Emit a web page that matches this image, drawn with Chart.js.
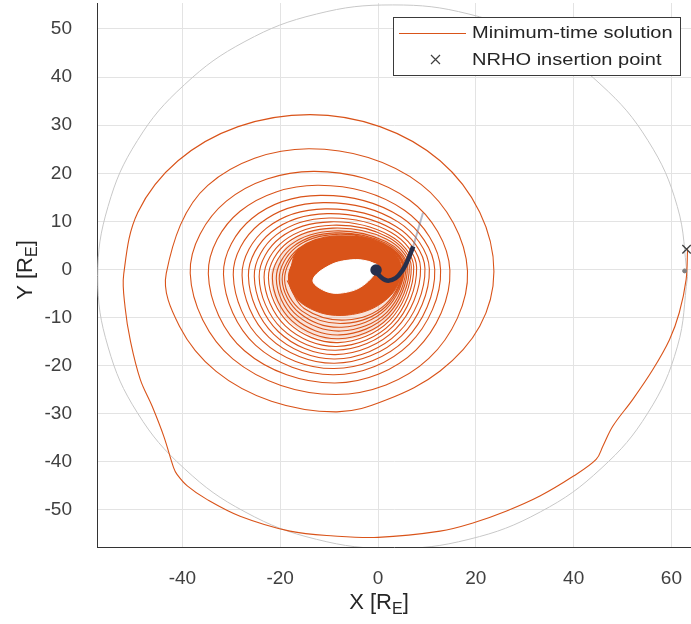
<!DOCTYPE html>
<html>
<head>
<meta charset="utf-8">
<script src="https://cdn.jsdelivr.net/npm/chart.js@4"></script>
<style>
  html, body { margin: 0; padding: 0; background: #fff; }
  #wrap { width: 691px; height: 624px; }
</style>
</head>
<body>
<div id="wrap"><canvas id="myChart" width="691" height="624"></canvas></div>
<script>
// Axis ticks
const xTicks = [-40, -20, 0, 20, 40, 60];
const yTicks = [-50, -40, -30, -20, -10, 0, 10, 20, 30, 40, 50];

// Outer transfer arc, from the NRHO insertion point down and round to the spiral
const transferX = [63.3, 63.0, 61.6, 59.6, 56.2, 52.1, 48.0, 46.0, 44.6, 39.9, 33.1, 26.3, 19.4, 12.7, 0.0, -9.0, -18.0, -28.2, -35.0, -39.0, -41.1, -41.8, -43.8, -46.2, -48.6, -50.6, -51.7];
const transferY = [4.2, -2.1, -9.0, -14.6, -20.8, -27.0, -32.6, -36.7, -39.5, -43.0, -47.1, -50.2, -52.7, -54.4, -55.7, -55.4, -54.4, -51.3, -47.8, -45.0, -42.6, -41.2, -34.7, -28.4, -22.9, -15.0, -8.0];

// Spiral revolutions, outer to inner, one loop per line
// first loop traced finer, the others by left, top-left, top, top-right, right, bottom-right, bottom, bottom-left
const loopX = [
    -52.0, -49.1, -40.9, -28.6, -13.9, 0.4, 12.7, 20.8, 23.7, 20.8, 12.7, 1.5, -8.4, -21.8, -33.1, -40.6,
    -43.3, -34.8, -14.2, 8.8, 18.3, 10.4, -8.6, -29.7,
    -38.4, -31.0, -13.2, 6.5, 14.7, 7.8, -8.8, -27.3,
    -34.7, -28.2, -12.4, 5.4, 12.8, 6.4, -9.0, -25.0,
    -31.6, -25.8, -11.8, 4.7, 11.6, 5.6, -9.0, -23.6,
    -29.6, -24.2, -11.2, 4.1, 10.5, 4.8, -8.9, -22.3,
    -27.8, -22.8, -10.8, 3.6, 9.6, 4.2, -8.8, -21.3,
    -26.5, -21.8, -10.4, 3.1, 8.7, 3.6, -8.7, -20.4,
    -25.3, -20.8, -10.0, 2.7, 7.9, 3.1, -8.6, -19.7,
    -24.3, -20.0, -9.7, 2.3, 7.3, 2.7, -8.4, -18.9,
    -23.3, -19.2, -9.4, 2.1, 6.8, 2.4, -8.2, -18.2,
    -22.4, -18.5, -9.2, 1.8, 6.4, 2.2, -8.0, -17.6,
    -21.6, -17.9, -9.0, 1.6, 6.0, 2.0, -7.8, -17.0,
    -20.8, -17.3, -8.8, 1.5, 5.7, 1.8, -7.6, -16.5,
    -20.2, -16.8, -8.6, 1.3, 5.4, 1.6, -7.4, -16.0,
    -19.6, -16.3, -8.5, 1.2, 5.2, 1.6, -7.0, -15.6,
    -19.1, -16.0, -8.4, 1.1, 5.0, 1.6, -6.6, -15.1, -18.6
];
const loopY = [
    -1.0, 11.9, 22.6, 29.7, 32.2, 29.7, 22.6, 11.9, -0.4, -11.8, -21.1, -27.2, -29.6, -27.4, -21.2, -11.8,
    -0.8, 17.5, 25.1, 17.7, -0.3, -18.5, -26.0, -18.6,
    -0.8, 14.2, 20.4, 14.4, -0.2, -16.7, -23.6, -16.9,
    -0.9, 12.1, 17.5, 12.3, -0.1, -15.5, -21.9, -15.8,
    -1.0, 10.6, 15.4, 10.9, 0.0, -14.6, -20.6, -14.9,
    -1.1, 9.5, 13.9, 9.9, 0.1, -13.8, -19.5, -14.1,
    -1.2, 8.6, 12.6, 9.0, 0.2, -13.1, -18.6, -13.5,
    -1.3, 7.8, 11.6, 8.3, 0.3, -12.4, -17.7, -12.9,
    -1.4, 7.2, 10.7, 7.7, 0.4, -11.8, -16.8, -12.3,
    -1.5, 6.6, 9.9, 7.1, 0.5, -11.2, -16.0, -11.8,
    -1.6, 6.0, 9.2, 6.7, 0.5, -10.6, -15.2, -11.2,
    -1.7, 5.6, 8.6, 6.3, 0.6, -10.0, -14.4, -10.7,
    -1.8, 5.1, 8.0, 5.8, 0.6, -9.4, -13.6, -10.2,
    -1.9, 4.8, 7.6, 5.5, 0.6, -8.9, -12.8, -9.6,
    -2.0, 4.6, 7.3, 5.3, 0.6, -8.3, -12.0, -9.1,
    -2.1, 4.3, 7.0, 5.1, 0.6, -7.7, -11.2, -8.6,
    -2.2, 4.2, 6.8, 5.0, 0.6, -7.2, -10.5, -8.1, -2.3
];

// Pale band where the innermost revolutions crowd together
const hazeX = [-22.0, -18.2, -9.2, 1.9, 6.5, 2.3, -8.1, -17.9, -22.0, -18.2];
const hazeY = [-1.7, 5.4, 8.7, 6.4, 0.6, -10.2, -14.8, -11.0, -1.7, 5.4];

// Dense core of the spiral (filled) and the empty hole in it
const coreX = [-18.3, -16.2, -8.4, 0.5, 4.8, 2.0, -6.4, -14.8, -18.3, -16.2];
const coreY = [-2.2, 4.2, 6.8, 5.6, 0.6, -6.0, -9.5, -7.6, -2.2, 4.2];
const holeX = [0.0, -2.0, -5.5, -10.0, -13.3, -11.0, -7.5, -3.0, 0.0, -2.0];
const holeY = [0.6, 1.7, 2.0, 0.8, -2.2, -4.4, -4.9, -3.3, 0.6, 1.7];

// Moon orbit (grey)
const orbitX = [63.3, 61.2, 55.2, 45.6, 33.2, 18.6, 3.0, -12.6, -27.2, -39.6, -49.2, -55.2, -57.3, -55.2, -49.2, -39.6, -27.2, -12.6, 3.0, 18.6, 33.2, 45.6, 55.2, 61.2, 63.3];
const orbitY = [-1.5, 13.1, 26.8, 38.4, 47.4, 53.1, 55.0, 53.1, 47.4, 38.4, 26.8, 13.1, -1.5, -16.1, -29.8, -41.4, -50.4, -56.1, -58.0, -56.1, -50.4, -41.4, -29.8, -16.1, -1.5];

// NRHO track near the Earth
const nrhoX = [-0.4, 0.3, 1.8, 3.6, 5.0, 6.2, 7.2];
const nrhoY = [-0.1, -1.3, -2.3, -1.8, -0.2, 2.2, 4.8];
const nrhoTailX = [7.2, 8.0, 8.6, 9.2];
const nrhoTailY = [4.8, 7.6, 9.7, 11.8];

// Insertion point marker and the small dot beside it
const insertionX = [63.1];
const insertionY = [4.2];
const dotX = [62.7];
const dotY = [-0.3];

const ORANGE = '#D95319';
const NAVY = '#27304d';
const FONT = '"Liberation Sans", Arial, sans-serif';

function pts(xs, ys) {
    return xs.map((x, i) => ({ x: x, y: ys[i] }));
}

// One continuous path: transfer arc then the spiral
const spiral = pts(transferX, transferY).concat(pts(loopX, loopY));

// Axis titles with subscript and the boxed legend
const decor = {
    id: 'decor',
    afterDraw(chart) {
        const ctx = chart.ctx;
        ctx.save();

        function subText(parts, cx, cy) {
            let total = 0;
            parts.forEach(p => {
                ctx.font = (p[1] ? '16px ' : '22px ') + FONT;
                total += ctx.measureText(p[0]).width;
            });
            let x = cx - total / 2;
            ctx.textBaseline = 'middle';
            ctx.textAlign = 'left';
            parts.forEach(p => {
                ctx.font = (p[1] ? '16px ' : '22px ') + FONT;
                ctx.fillText(p[0], x, p[1] ? cy + 7 : cy);
                x += ctx.measureText(p[0]).width;
            });
        }

        ctx.fillStyle = '#262626';
        subText([['X [R', false], ['E', true], [']', false]], 379, 603);
        ctx.save();
        ctx.translate(26, 270);
        ctx.rotate(-Math.PI / 2);
        subText([['Y [R', false], ['E', true], [']', false]], 0, 0);
        ctx.restore();

        // legend box
        const bx = 393, by = 17, bw = 287, bh = 58;
        ctx.fillStyle = '#ffffff';
        ctx.fillRect(bx, by, bw, bh);
        ctx.strokeStyle = '#3a3a3a';
        ctx.lineWidth = 1;
        ctx.strokeRect(bx + 0.5, by + 0.5, bw, bh);

        ctx.strokeStyle = ORANGE;
        ctx.lineWidth = 1;
        ctx.beginPath();
        ctx.moveTo(399, 33.5);
        ctx.lineTo(466, 33.5);
        ctx.stroke();

        ctx.strokeStyle = '#404040';
        ctx.lineWidth = 1.2;
        ctx.beginPath();
        ctx.moveTo(431, 55); ctx.lineTo(440, 64);
        ctx.moveTo(440, 55); ctx.lineTo(431, 64);
        ctx.stroke();

        // text is drawn slightly widened, as in the original
        ctx.fillStyle = '#262626';
        ctx.font = '17px ' + FONT;
        ctx.textAlign = 'left';
        ctx.textBaseline = 'middle';
        ctx.save();
        ctx.translate(472, 0);
        ctx.scale(1.18, 1);
        ctx.fillText('Minimum-time solution', 0, 33);
        ctx.fillText('NRHO insertion point', 0, 60);
        ctx.restore();
        ctx.restore();
    }
};

const ctx = document.getElementById('myChart');

new Chart(ctx, {
    type: 'scatter',
    data: {
        datasets: [
            {
                label: 'NRHO insertion point',
                data: pts(insertionX, insertionY),
                showLine: false,
                pointStyle: 'crossRot',
                pointRadius: 6,
                borderColor: '#404040',
                borderWidth: 1.4,
                clip: false,
                order: 1
            },
            {
                label: 'dot',
                data: pts(dotX, dotY),
                showLine: false,
                pointRadius: 2,
                backgroundColor: '#808080',
                borderColor: '#808080',
                order: 1
            },
            {
                label: 'nrho',
                data: pts(nrhoX, nrhoY),
                showLine: true,
                pointRadius: [3.5, 0, 0, 0, 0, 0, 0],
                backgroundColor: NAVY,
                borderColor: NAVY,
                borderWidth: 4.5,
                tension: 0.4,
                order: 2
            },
            {
                label: 'nrhoTail',
                data: pts(nrhoTailX, nrhoTailY),
                showLine: true,
                pointRadius: 0,
                borderColor: 'rgba(110,120,150,0.5)',
                borderWidth: 2,
                tension: 0.4,
                order: 3
            },
            {
                label: 'hole',
                data: pts(holeX, holeY),
                showLine: true,
                pointRadius: 0,
                borderColor: '#ffffff',
                borderWidth: 1,
                backgroundColor: '#ffffff',
                fill: 'shape',
                tension: 0.38,
                order: 4
            },
            {
                label: 'core',
                data: pts(coreX, coreY),
                showLine: true,
                pointRadius: 0,
                borderColor: ORANGE,
                borderWidth: 1,
                backgroundColor: ORANGE,
                fill: 'shape',
                tension: 0.38,
                order: 5
            },
            {
                label: 'Minimum-time solution',
                data: spiral,
                showLine: true,
                pointRadius: 0,
                borderColor: ORANGE,
                borderWidth: 1.1,
                tension: 0.36,
                order: 6
            },
            {
                label: 'haze',
                data: pts(hazeX, hazeY),
                showLine: true,
                pointRadius: 0,
                borderWidth: 0,
                borderColor: 'rgba(0,0,0,0)',
                backgroundColor: 'rgba(217,83,25,0.16)',
                fill: 'shape',
                tension: 0.38,
                order: 7
            },
            {
                label: 'orbit',
                data: pts(orbitX, orbitY),
                showLine: true,
                pointRadius: 0,
                borderColor: '#c8c8c8',
                borderWidth: 1,
                tension: 0.4,
                order: 9
            }
        ]
    },
    options: {
        responsive: false,
        animation: false,
        layout: { autoPadding: false, padding: { top: 3, right: 0, left: 0, bottom: 0 } },
        plugins: {
            legend: { display: false },
            tooltip: { enabled: false }
        },
        scales: {
            x: {
                type: 'linear',
                min: -57.46,
                max: 64.0,
                afterFit(scale) {
                    scale.height = 77;
                    scale.paddingLeft = 0;
                    scale.paddingRight = 0;
                },
                ticks: {
                    stepSize: 20,
                    includeBounds: false,
                    padding: 20,
                    color: '#404040',
                    font: { family: FONT, size: 19 },
                    callback: v => xTicks.includes(v) ? v : ''
                },
                grid: { color: '#e3e3e3', drawTicks: false },
                border: { color: '#333333', width: 1 }
            },
            y: {
                type: 'linear',
                min: -57.7,
                max: 55.4,
                afterFit(scale) {
                    scale.width = 97;
                    scale.paddingTop = 0;
                    scale.paddingBottom = 0;
                },
                ticks: {
                    stepSize: 10,
                    includeBounds: false,
                    padding: 25,
                    color: '#404040',
                    font: { family: FONT, size: 19 },
                    callback: v => yTicks.includes(v) ? v : ''
                },
                grid: { color: '#e3e3e3', drawTicks: false },
                border: { color: '#333333', width: 1 }
            }
        }
    },
    plugins: [decor]
});
</script>
</body>
</html>
